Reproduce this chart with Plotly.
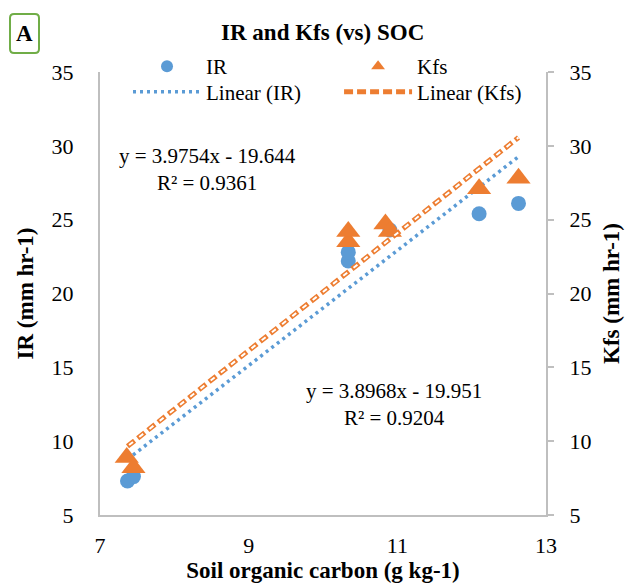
import plotly.graph_objects as go

# Data
soc_ir = [7.37, 7.45, 10.34, 10.34, 10.90, 12.10, 12.63]
ir = [7.3, 7.6, 22.2, 22.8, 24.3, 25.4, 26.1]
soc_kfs = [7.36, 7.45, 10.34, 10.34, 10.84, 10.90, 12.10, 12.63]
kfs = [8.9, 8.2, 23.5, 24.2, 24.7, 24.2, 27.1, 27.8]

# Trend line coefficients as printed on the chart
ir_fit = {"slope": 3.8968, "intercept": -19.951, "r2": 0.9204}
kfs_fit = {"slope": 3.9754, "intercept": -19.644, "r2": 0.9361}
fit_x = [7.37, 12.63]

x_ticks = [7, 9, 11, 13]
y_ticks = [5, 10, 15, 20, 25, 30, 35]

FONT = "Liberation Serif"
AX = "#bfbfbf"
BLUE = "#5b9bd5"
ORANGE = "#ed7d31"

fig = go.Figure()

def line_y(fit, xs):
    return [fit["slope"] * v + fit["intercept"] for v in xs]

fig.add_trace(go.Scatter(x=soc_ir, y=ir, mode="markers", name="IR", legend="legend",
                         marker=dict(symbol="circle", size=15, color=BLUE)))
fig.add_trace(go.Scatter(x=soc_kfs, y=kfs, mode="markers", name="Kfs", yaxis="y2",
                         legend="legend2",
                         marker=dict(symbol="triangle-up", size=21, color=ORANGE)))
fig.add_trace(go.Scatter(x=fit_x, y=line_y(ir_fit, fit_x), mode="lines", name="Linear (IR)",
                         legend="legend3",
                         line=dict(color=BLUE, width=3.5, dash="3px,4px")))
fig.add_trace(go.Scatter(x=fit_x, y=line_y(kfs_fit, fit_x), mode="lines", name="Linear (Kfs)",
                         yaxis="y2", legend="legend4",
                         line=dict(color=ORANGE, width=5, dash="9px,4px")))
fig.add_trace(go.Scatter(x=fit_x, y=line_y(kfs_fit, fit_x), mode="lines", showlegend=False,
                         yaxis="y2", hoverinfo="skip",
                         line=dict(color="white", width=2, dash="0px,2px,5px,6px")))

def leg(x, y, sizing):
    return dict(orientation="v", x=x, y=y, yanchor="middle", xanchor="left",
                bgcolor="rgba(0,0,0,0)", font=dict(size=21), itemwidth=68,
                itemsizing=sizing)

ROW1, ROW2 = 1.0124, 0.9549
COL1, COL2 = 0.0628, 0.536

fig.update_layout(
    width=629, height=583,
    margin=dict(l=100, r=83, t=72, b=68, autoexpand=False),
    paper_bgcolor="white", plot_bgcolor="white",
    font=dict(family=FONT, size=22, color="black"),
    title=dict(text="<b>IR and Kfs (vs) SOC</b>", x=0.513, xanchor="center",
               y=0.945, yanchor="middle", font=dict(size=23)),
    showlegend=True,
    legend=leg(COL1, ROW1, "constant"),
    legend2=leg(COL2, ROW1, "constant"),
    legend3=leg(COL1, ROW2, "trace"),
    legend4=leg(COL2, ROW2, "trace"),
    xaxis=dict(range=[7, 13], tickvals=x_ticks, showgrid=False, zeroline=False,
               showline=True, linecolor=AX, linewidth=2, ticks="",
               ticklabelstandoff=10,
               title=dict(text="<b>Soil organic carbon (g kg-1)</b>", standoff=8,
                          font=dict(size=23))),
    yaxis=dict(range=[5, 35], tickvals=y_ticks, showgrid=False, zeroline=False,
               showline=True, linecolor=AX, linewidth=2, ticks="",
               ticklabelstandoff=20,
               title=dict(text="<b>IR (mm hr-1)</b>", standoff=12, font=dict(size=23))),
    yaxis2=dict(range=[5, 35], tickvals=y_ticks, overlaying="y", side="right",
                showgrid=False, zeroline=False, showline=True, linecolor=AX, linewidth=2,
                ticks="outside", ticklen=6, tickcolor=AX, tickwidth=2,
                ticklabelstandoff=11,
                title=dict(text="<b>Kfs (mm hr-1)</b>", standoff=12, font=dict(size=23))),
)

# Boxed panel label "A" with rounded green border
def px2paper_x(px):
    return (px - 100) / 446.0

def px2paper_y(py):
    return (515 - py) / 443.0

x0, x1, y0, y1, r = 10, 39, 14, 53, 4
path = ("M {a},{b} L {c},{b} Q {d},{b} {d},{e} L {d},{f} Q {d},{g} {c},{g} "
        "L {a},{g} Q {h},{g} {h},{f} L {h},{e} Q {h},{b} {a},{b} Z").format(
    a=px2paper_x(x0 + r), b=px2paper_y(y0), c=px2paper_x(x1 - r), d=px2paper_x(x1),
    e=px2paper_y(y0 + r), f=px2paper_y(y1 - r), g=px2paper_y(y1), h=px2paper_x(x0))
fig.add_shape(type="path", path=path, xref="paper", yref="paper",
              line=dict(color="#70ad47", width=2), fillcolor="white")
fig.add_annotation(xref="paper", yref="paper", x=px2paper_x(24.5), y=px2paper_y(34),
                   xanchor="center", yanchor="middle", text="<b>A</b>", showarrow=False,
                   font=dict(size=23, family=FONT))

fig.add_annotation(x=8.44, y=28.4, xref="x", yref="y", showarrow=False,
                   text="y = %.4fx - %.3f<br>R² = %.4f" % (kfs_fit["slope"], -kfs_fit["intercept"], kfs_fit["r2"]),
                   font=dict(size=21), align="center")
fig.add_annotation(x=10.95, y=12.45, xref="x", yref="y", showarrow=False,
                   text="y = %.4fx - %.3f<br>R² = %.4f" % (ir_fit["slope"], -ir_fit["intercept"], ir_fit["r2"]),
                   font=dict(size=21), align="center")

fig.write_html("out.html")
